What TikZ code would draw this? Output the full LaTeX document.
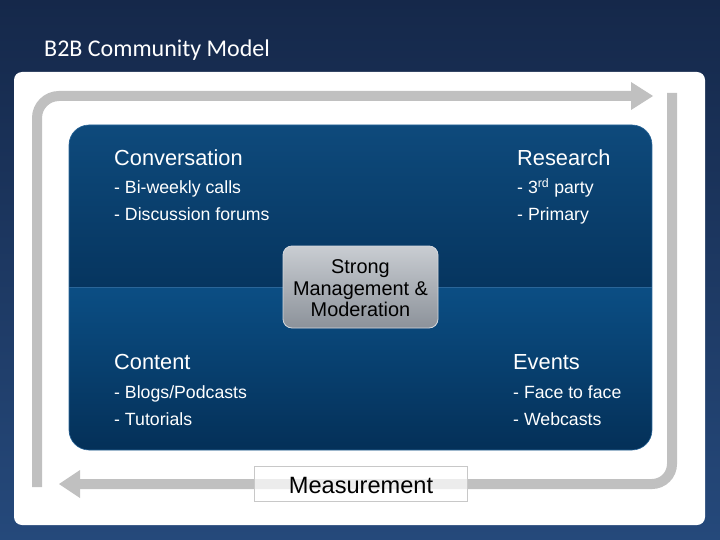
\documentclass[tikz,border=0pt]{standalone}
\usepackage{fontspec}
\setmainfont{Liberation Sans}
\newfontfamily\titlefont{Carlito}
\usetikzlibrary{calc}
\definecolor{bgtop}{HTML}{15284A}
\definecolor{bgbot}{HTML}{25497B}
\definecolor{loopgray}{HTML}{C0C0C0}
\definecolor{bluetopA}{HTML}{0E4A7C}
\definecolor{bluetopB}{HTML}{06355F}
\definecolor{bluebotA}{HTML}{0B4E84}
\definecolor{bluebotB}{HTML}{043058}
\definecolor{divline}{HTML}{2A6699}
\definecolor{boxtop}{HTML}{C9CDD2}
\definecolor{boxbot}{HTML}{8C929A}
\definecolor{boxedge}{HTML}{D5D9DE}
\definecolor{measedge}{HTML}{C8C8C8}
\tikzset{
  loopline/.style={draw=loopgray, line width=10pt},
  loophead/.style={fill=loopgray},
  heading/.style={anchor=base west, text=white, font=\fontsize{21.8}{25}\selectfont, inner sep=0pt},
  item/.style={anchor=base west, text=white, font=\fontsize{17.7}{20}\selectfont, inner sep=0pt},
  centertext/.style={anchor=base, text=black, font=\fontsize{19.9}{21}\selectfont, inner sep=0pt},
}
\begin{document}
\begin{tikzpicture}[x=1pt,y=-1pt]
\useasboundingbox (0,0) rectangle (720,540);
\shade[top color=bgtop, bottom color=bgbot] (0,0) rectangle (720,540);
\node[anchor=base west, text=white, font=\titlefont\fontsize{24}{28}\selectfont, inner sep=0pt] (title) at (44,57) {B2B Community Model};
\fill[white, rounded corners=8pt] (14,72) rectangle (705,525);

% loop
\coordinate (lb) at (37,487);
\coordinate (lt) at (37,96);
\coordinate (th) at (631,96);
\coordinate (rt) at (672,93);
\coordinate (rb) at (672,484);
\coordinate (bh) at (79,484);
\draw[loopline, rounded corners=22pt] (lb) -- (lt) -- (th);
\fill[loophead] (631,82) -- (653,96) -- (631,110) -- cycle;
\draw[loopline, rounded corners=20pt] (rt) -- (rb) -- (bh);
\fill[loophead] (80,470) -- (59,484) -- (80,498) -- cycle;

% blue box
\begin{scope}
\clip[rounded corners=20pt] (69,125) rectangle (652,450);
\shade[top color=bluetopA, bottom color=bluetopB] (69,125) rectangle (652,287);
\shade[top color=bluebotA, bottom color=bluebotB] (69,287) rectangle (652,450);
\draw[divline, line width=0.8pt] (69,287) -- (652,287);
\end{scope}
\draw[draw=divline, line width=0.6pt, rounded corners=20pt] (69,125) rectangle (652,450);

% center box
\node[draw=boxedge, line width=0.8pt, rounded corners=9pt, top color=boxtop, bottom color=boxbot, minimum width=155pt, minimum height=82pt, inner sep=0pt] (center) at (360.5,287) {};
\node[centertext] (c1) at (360.5,273) {Strong};
\node[centertext] (c2) at (360.5,295) {Management \&};
\node[centertext] (c3) at (360.5,316) {Moderation};

% quadrants
\node[heading] (conv) at (114,166) {Conversation};
\node[item] (conv1) at (114,194) {- Bi-weekly calls};
\node[item] (conv2) at (114,221) {- Discussion forums};
\node[heading] (res) at (517,166) {Research};
\node[item] (res1) at (517,194) {- 3\textsuperscript{rd} party};
\node[item] (res2) at (517,221) {- Primary};
\node[heading] (cont) at (114,369) {Content};
\node[item] (cont1) at (114,398) {- Blogs/Podcasts};
\node[item] (cont2) at (114,425) {- Tutorials};
\node[heading] (ev) at (513,369) {Events};
\node[item] (ev1) at (513,398) {- Face to face};
\node[item] (ev2) at (513,425) {- Webcasts};

% measurement
\node[draw=measedge, line width=0.8pt, fill=white, fill opacity=0.7, minimum width=213pt, minimum height=35pt, inner sep=0pt] (meas) at (360.5,483.5) {};
\node[anchor=base, text=black, font=\fontsize{23.6}{26}\selectfont, inner sep=0pt] (meastext) at (361,493) {Measurement};
\end{tikzpicture}
\end{document}
